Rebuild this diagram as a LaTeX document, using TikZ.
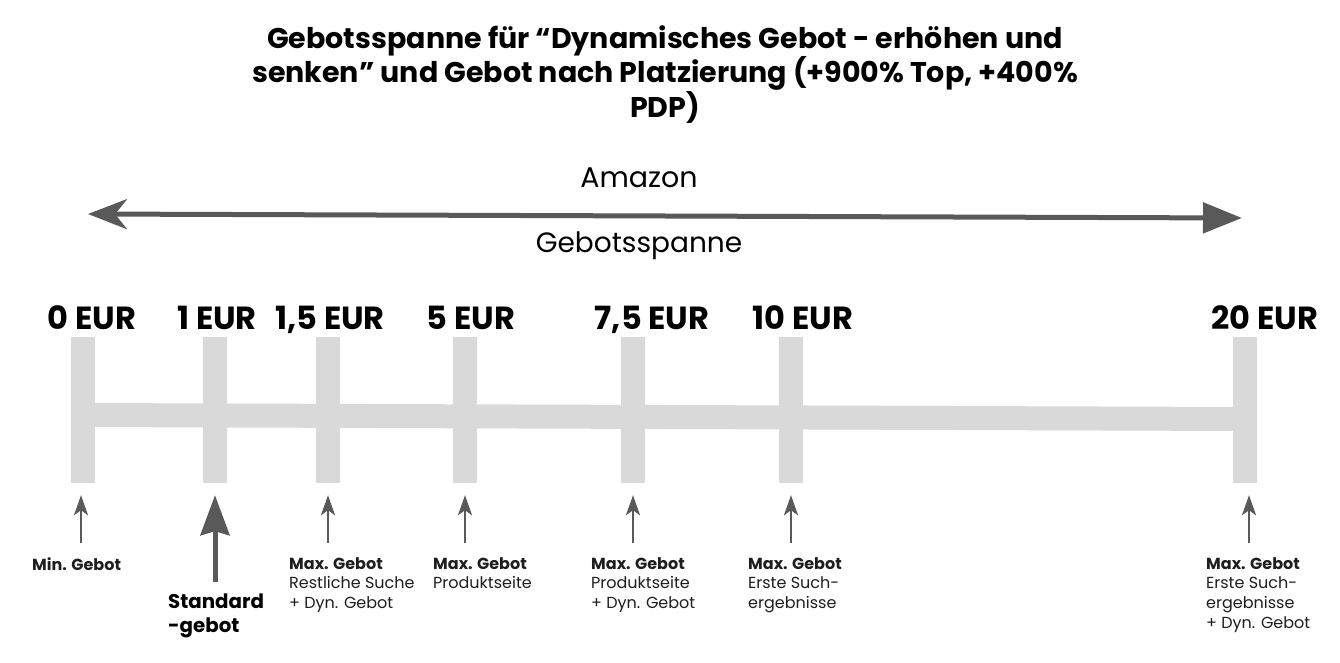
\documentclass[tikz,border=0pt]{standalone}
\usepackage{fontspec}
\setmainfont{Poppins}
\usepackage{xcolor}
\usepackage{tikz}
\usetikzlibrary{arrows.meta}
\definecolor{bargray}{RGB}{217,217,217}
\definecolor{arrowgray}{RGB}{89,89,89}
\definecolor{textdark}{RGB}{30,30,30}

\begin{document}
\begin{tikzpicture}[x=1pt, y=-1pt,
  tickbar/.style={fill=bargray, minimum width=24pt, minimum height=146pt, inner sep=0pt},
  eurlabel/.style={anchor=base, inner sep=0pt, font=\fontsize{32}{36}\selectfont\bfseries},
  note/.style={anchor=north west, inner sep=0pt, align=left, text=textdark, font=\fontsize{16}{19.7}\selectfont},
  pointer/.style={draw=arrowgray, line width=2.5pt, -{Stealth[length=20pt, width=14pt, inset=5pt]}}]
\useasboundingbox[fill=white] (0,0) rectangle (1340,663);

% title
\node[anchor=north, inner sep=0pt, align=center, font=\fontsize{28.5}{32}\selectfont\bfseries] (title) at (665,25)
  {Gebotsspanne für “Dynamisches Gebot - erhöhen und\\senken” und Gebot nach Platzierung (+900\% Top, +400\%\\PDP)};

% range arrow
\coordinate (spanL) at (88,214);
\coordinate (spanR) at (1242,218);
\draw[arrowgray, line width=5pt, {Stealth[length=39pt, width=30pt, inset=12pt]}-{Triangle[length=39pt, width=30pt]}] (spanL) -- (spanR);
\node[font=\fontsize{28.5}{32}\selectfont, inner sep=0pt] (amazon) at (639,178) {Amazon};
\node[font=\fontsize{28}{32}\selectfont, inner sep=0pt] (spanne) at (639,246) {Gebotsspanne};

% scale bars
\node[tickbar] (b0) at (83,410) {};
\node[tickbar] (b1) at (215,410) {};
\node[tickbar] (b15) at (328,410) {};
\node[tickbar] (b5) at (465,410) {};
\node[tickbar] (b75) at (633,410) {};
\node[tickbar] (b10) at (791,410) {};
\node[tickbar] (b20) at (1245,410) {};
\draw[bargray, line width=24pt] ([yshift=-5pt]b0.center) -- ([yshift=-9pt]b20.center);
\fill[bargray] (b0.south west) rectangle (b0.north east);
\fill[bargray] (b20.south west) rectangle (b20.north east);

% amounts
\node[eurlabel] (e0) at (92,329) {0 EUR};
\node[eurlabel] (e1) at (217,329) {1 EUR};
\node[eurlabel] (e15) at (330,329) {1,5 EUR};
\node[eurlabel] (e5) at (471,329) {5 EUR};
\node[eurlabel] (e75) at (652,329) {7,5 EUR};
\node[eurlabel] (e10) at (803,329) {10 EUR};
\node[eurlabel] (e20) at (1265,329) {20 EUR};

% pointers
\draw[pointer] ([xshift=-2pt, yshift=-60pt]b0.south) -- ([xshift=-2pt, yshift=-12pt]b0.south);
\draw[arrowgray, line width=5pt, -{Stealth[length=40pt, width=29pt, inset=4pt]}] ([yshift=-99pt]b1.south) -- ([yshift=-12pt]b1.south);
\draw[pointer] ([yshift=-60pt]b15.south) -- ([yshift=-12pt]b15.south);
\draw[pointer] ([yshift=-60pt]b5.south) -- ([yshift=-12pt]b5.south);
\draw[pointer] ([yshift=-60pt]b75.south) -- ([yshift=-12pt]b75.south);
\draw[pointer] ([yshift=-60pt]b10.south) -- ([yshift=-12pt]b10.south);
\draw[pointer] ([xshift=4pt, yshift=-60pt]b20.south) -- ([xshift=4pt, yshift=-12pt]b20.south);

% notes
\node[note] (n0) at (32,557) {\textbf{Min. Gebot}};
\node[note, font=\fontsize{19.8}{24}\selectfont\bfseries, text=black] (n1) at (168,594) {Standard\\-gebot};
\node[note] (n15) at (289,557) {\textbf{Max. Gebot}\\Restliche Suche\\+ Dyn. Gebot};
\node[note] (n5) at (433,557) {\textbf{Max. Gebot}\\Produktseite};
\node[note] (n75) at (591,557) {\textbf{Max. Gebot}\\Produktseite\\+ Dyn. Gebot};
\node[note] (n10) at (748,557) {\textbf{Max. Gebot}\\Erste Such-\\ergebnisse};
\node[note] (n20) at (1206,557) {\textbf{Max. Gebot}\\Erste Such-\\ergebnisse\\+ Dyn. Gebot};
\end{tikzpicture}
\end{document}
